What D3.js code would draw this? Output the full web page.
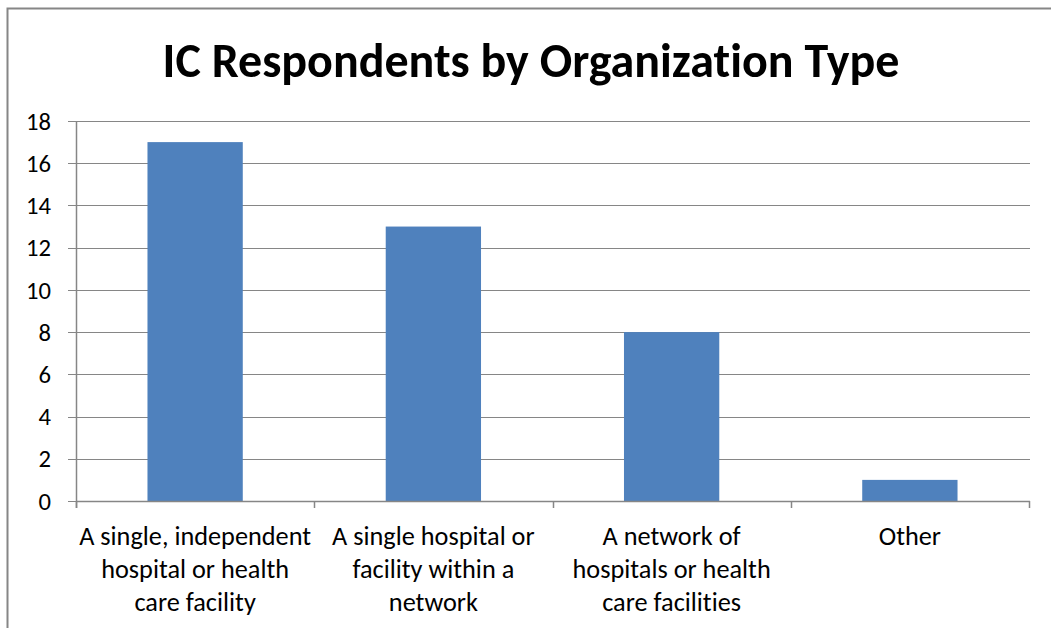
<!DOCTYPE html>
<html>
<head>
<meta charset="utf-8">
<script src="https://cdn.jsdelivr.net/npm/d3@7"></script>
<style>
  body { margin: 0; background: #fff; }
  svg { display: block; }
  text { font-variant-ligatures: none; }
</style>
</head>
<body>
<svg id="canvas" width="1051" height="628"></svg>
<script>
// chart data
const categories = [
  ["A single, independent", "hospital or health", "care facility"],
  ["A single hospital or", "facility within a", "network"],
  ["A network of", "hospitals or health", "care facilities"],
  ["Other"]
]
const counts = [17, 13, 8, 1]
const yTicks = [0, 2, 4, 6, 8, 10, 12, 14, 16, 18]
const titleText = "IC Respondents by Organization Type"

const w = 1051, h = 628
const plotL = 76, plotR = 1029, plotT = 121, plotB = 501
const fontFam = "Calibri, Carlito, 'Open Sans', 'Liberation Sans', sans-serif"

const svg = d3.select("#canvas")

// outer border (right/bottom clipped like the original)
svg.append("rect")
  .attr("x", 7.5).attr("y", 8.5)
  .attr("width", w + 10).attr("height", h + 10)
  .attr("fill", "none")
  .attr("stroke", "#868686")
  .attr("stroke-width", 2)

const x = d3.scaleBand()
  .domain(d3.range(categories.length))
  .range([plotL, plotR])
  .paddingInner(0).paddingOuter(0)

const y = d3.scaleLinear().domain([0, 18]).range([plotB, plotT])

// gridlines
svg.append("g").selectAll("line")
  .data(yTicks)
  .join("line")
  .attr("x1", plotL - 8).attr("x2", plotR + 1)
  .attr("y1", d => Math.round(y(d)) + 0.5)
  .attr("y2", d => Math.round(y(d)) + 0.5)
  .attr("stroke", "#868686")
  .attr("stroke-width", 1.2)

// y labels
const yLab = svg.append("g").selectAll("text")
  .data(yTicks)
  .join("text")
  .attr("x", 51)
  .attr("y", d => y(d))
  .attr("dy", "0.35em")
  .attr("text-anchor", "end")
  .style("font-family", fontFam)
  .style("font-size", "20px")
  .attr("fill", "#000")
  .text(d => d)

// bars
const barW = x.bandwidth() * 0.4
svg.append("g").selectAll("rect")
  .data(counts)
  .join("rect")
  .attr("x", (d, i) => x(i) + (x.bandwidth() - barW) / 2)
  .attr("width", barW)
  .attr("y", d => y(d))
  .attr("height", d => y(0) - y(d))
  .attr("fill", "#4F81BD")

// y axis line
svg.append("line")
  .attr("x1", plotL + 0.5).attr("x2", plotL + 0.5)
  .attr("y1", plotT).attr("y2", plotB + 7)
  .attr("stroke", "#868686").attr("stroke-width", 1.5)

// x axis line + ticks between categories
svg.append("line")
  .attr("x1", plotL).attr("x2", plotR + 1)
  .attr("y1", plotB + 0.5).attr("y2", plotB + 0.5)
  .attr("stroke", "#868686").attr("stroke-width", 1.5)

const tickPos = d3.range(categories.length + 1).map(i => i < categories.length ? x(i) : plotR)
svg.append("g").selectAll("line")
  .data(tickPos)
  .join("line")
  .attr("x1", d => Math.round(d) + 0.5).attr("x2", d => Math.round(d) + 0.5)
  .attr("y1", plotB).attr("y2", plotB + 7)
  .attr("stroke", "#868686").attr("stroke-width", 1.5)

// category labels
const catG = svg.append("g").selectAll("text")
  .data(categories)
  .join("text")
  .attr("x", (d, i) => x(i) + x.bandwidth() / 2)
  .attr("y", 545)
  .attr("text-anchor", "middle")
  .style("font-family", fontFam)
  .style("font-size", "20px")
  .attr("fill", "#000")

catG.selectAll("tspan")
  .data(d => d)
  .join("tspan")
  .attr("x", function () { return d3.select(this.parentNode).attr("x") })
  .attr("dy", (d, i) => i === 0 ? 0 : 33)
  .text(d => d)

// title
const title = svg.append("text")
  .attr("x", 531)
  .attr("y", 77)
  .attr("text-anchor", "middle")
  .style("font-family", fontFam)
  .style("font-weight", "bold")
  .style("font-size", "38px")
  .attr("fill", "#000")
  .text(titleText)

// fit sizes to the widths measured on the original
const tw = title.node().getComputedTextLength()
if (tw > 0) title.style("font-size", (38 * 737 / tw) + "px")

const firstW = catG.select("tspan").node().getComputedTextLength()
if (firstW > 0) catG.style("font-size", (20 * 232 / firstW) + "px")

const yw = yLab.filter(d => d === 18).node().getComputedTextLength()
if (yw > 0) yLab.style("font-size", (20 * 25 / yw) + "px")
</script>
</body>
</html>
